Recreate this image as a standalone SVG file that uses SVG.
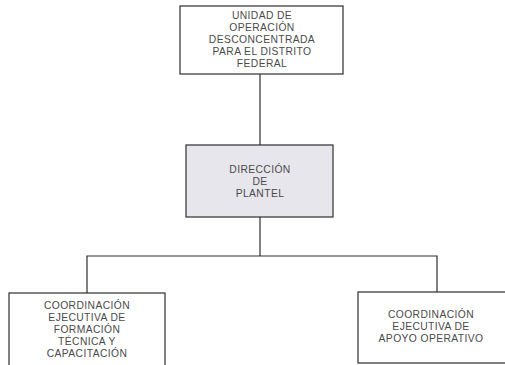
<svg xmlns="http://www.w3.org/2000/svg" width="505" height="365" viewBox="0 0 505 365">
<style>
.box{fill:#ffffff;stroke:#2e2e2e;stroke-width:1.2}
.gray{fill:#e8e6ed}
.con{fill:none;stroke:#2e2e2e;stroke-width:1.2}
text{font-family:"Liberation Sans",Arial,sans-serif;font-size:10.3px;fill:#4a4a4a;text-anchor:middle;letter-spacing:0.4px}
</style>
<rect width="505" height="365" fill="#ffffff"/>
<g id="connectors">
<line class="con" x1="260" y1="74" x2="260" y2="145"/>
<line class="con" x1="260" y1="217" x2="260" y2="256"/>
<polyline class="con" points="87,293 87,256 437,256 437,292"/>
</g>
<g id="unidad">
<rect class="box" x="180" y="6" width="163" height="68"/>
<text x="262" y="19">UNIDAD DE</text>
<text x="262" y="31">OPERACIÓN</text>
<text x="262" y="43">DESCONCENTRADA</text>
<text x="262" y="55">PARA EL DISTRITO</text>
<text x="262" y="67">FEDERAL</text>
</g>
<g id="direccion">
<rect class="box gray" x="186" y="145" width="147" height="72"/>
<text x="260" y="173">DIRECCIÓN</text>
<text x="260" y="185">DE</text>
<text x="260" y="197">PLANTEL</text>
</g>
<g id="formacion">
<rect class="box" x="9" y="293" width="156" height="80"/>
<text x="87" y="309">COORDINACIÓN</text>
<text x="87" y="321">EJECUTIVA  DE</text>
<text x="87" y="333">FORMACIÓN</text>
<text x="87" y="345">TÉCNICA  Y</text>
<text x="87" y="357">CAPACITACIÓN</text>
</g>
<g id="apoyo">
<rect class="box" x="358" y="292" width="160" height="71"/>
<text x="431" y="318">COORDINACIÓN</text>
<text x="431" y="330">EJECUTIVA  DE</text>
<text x="431" y="342">APOYO  OPERATIVO</text>
</g>
</svg>
